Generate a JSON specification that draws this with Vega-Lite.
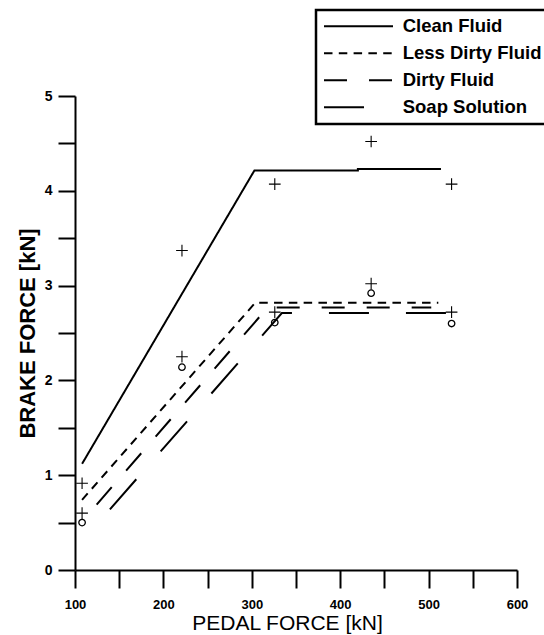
{
  "$schema": "https://vega.github.io/schema/vega-lite/v6.json",
  "width": 442,
  "height": 474,
  "autosize": {"type": "none"},
  "padding": {"left": 75, "top": 96, "right": 27, "bottom": 65},
  "background": "white",
  "config": {
    "view": {"stroke": null},
    "font": "Liberation Sans",
    "axis": {"grid": false, "domainColor": "black", "tickColor": "black", "labelColor": "black", "titleColor": "black", "domainWidth": 2, "tickWidth": 2, "labelFont": "Liberation Sans", "titleFont": "Liberation Sans", "labelOverlap": false, "labelFlush": false}
  },
  "datasets": {
    "lines": [
      {"series": "Clean Fluid", "pedal": 108, "brake": 1.12, "ord": 1},
      {"series": "Clean Fluid", "pedal": 303, "brake": 4.215, "ord": 2},
      {"series": "Clean Fluid", "pedal": 420, "brake": 4.215, "ord": 3},
      {"series": "Clean Fluid", "pedal": 420, "brake": 4.23, "ord": 4},
      {"series": "Clean Fluid", "pedal": 514, "brake": 4.23, "ord": 5},
      {"series": "Less Dirty Fluid", "pedal": 108, "brake": 0.74, "ord": 1},
      {"series": "Less Dirty Fluid", "pedal": 304, "brake": 2.82, "ord": 2},
      {"series": "Less Dirty Fluid", "pedal": 511, "brake": 2.82, "ord": 3},
      {"series": "Dirty Fluid", "pedal": 124.5, "brake": 0.69, "ord": 1},
      {"series": "Dirty Fluid", "pedal": 318, "brake": 2.77, "ord": 2},
      {"series": "Dirty Fluid", "pedal": 503, "brake": 2.77, "ord": 3},
      {"series": "Soap Solution", "pedal": 139.5, "brake": 0.64, "ord": 1},
      {"series": "Soap Solution", "pedal": 334, "brake": 2.71, "ord": 2},
      {"series": "Soap Solution", "pedal": 543, "brake": 2.71, "ord": 3}
    ],
    "plus": [
      {"pedal": 108, "brake": 0.915},
      {"pedal": 221, "brake": 3.37},
      {"pedal": 326, "brake": 4.07},
      {"pedal": 435, "brake": 4.52},
      {"pedal": 526, "brake": 4.07},
      {"pedal": 108, "brake": 0.6},
      {"pedal": 221, "brake": 2.25},
      {"pedal": 326, "brake": 2.72},
      {"pedal": 435, "brake": 3.02},
      {"pedal": 526, "brake": 2.72}
    ],
    "circles": [
      {"pedal": 108, "brake": 0.5},
      {"pedal": 221, "brake": 2.14},
      {"pedal": 326, "brake": 2.61},
      {"pedal": 435, "brake": 2.92},
      {"pedal": 526, "brake": 2.6}
    ]
  },
  "layer": [
    {
      "data": {"name": "lines"},
      "mark": {"type": "line", "color": "black", "strokeWidth": 2, "strokeCap": "butt"},
      "encoding": {
        "x": {"field": "pedal", "type": "quantitative", "scale": {"domain": [100, 600], "nice": false, "zero": false},
          "axis": {"orient": "bottom", "title": "PEDAL FORCE [kN]", "values": [100, 150, 200, 250, 300, 350, 400, 450, 500, 550, 600], "labelExpr": "datum.value % 100 === 0 ? format(datum.value, 'd') : ''", "tickSize": 18, "labelFontSize": 13, "labelFontWeight": "bold", "labelPadding": 10, "titleFontSize": 21, "titleFontWeight": "normal", "titlePadding": 1, "titleX": 212,
            "encode": {"ticks": {"update": {"y2": {"signal": "datum.value % 100 === 0 ? 18 : 9"}}}}}},
        "y": {"field": "brake", "type": "quantitative", "scale": {"domain": [0, 5], "nice": false},
          "axis": {"orient": "left", "title": "BRAKE FORCE [kN]", "values": [0, 0.5, 1, 1.5, 2, 2.5, 3, 3.5, 4, 4.5, 5], "labelExpr": "datum.value % 1 === 0 ? format(datum.value, 'd') : ''", "tickSize": 17, "labelFontSize": 14, "labelFontWeight": "bold", "labelPadding": 6, "titleFontSize": 22, "titleFontWeight": "bold", "titlePadding": 5,
            "encode": {"ticks": {"update": {"x2": {"signal": "datum.value % 1 === 0 ? -17 : -8"}}}}}},
        "strokeDash": {"field": "series", "type": "nominal",
          "scale": {"domain": ["Clean Fluid", "Less Dirty Fluid", "Dirty Fluid", "Soap Solution"], "range": [[1, 0], [8.5, 6.3], [23, 22], [40, 37]]},
          "legend": {"orient": "none", "legendX": 241, "legendY": -86, "title": null, "symbolType": "stroke", "symbolSize": 4761, "symbolStrokeWidth": 2, "symbolStrokeColor": "black", "labelFontSize": 18.5, "labelFontWeight": "bold", "labelFont": "Liberation Sans", "labelColor": "black", "labelOffset": 8.7, "rowPadding": 8, "clipHeight": 18.5, "padding": 7, "strokeColor": "black", "fillColor": "white",
            "encode": {"legend": {"update": {"strokeWidth": {"value": 2.5}}}}}},
        "order": {"field": "ord", "type": "quantitative"}
      }
    },
    {
      "data": {"name": "plus"},
      "mark": {"type": "point", "shape": "M-1,0L1,0M0,-1L0,1", "filled": false, "color": "black", "strokeWidth": 1.1, "size": 137, "opacity": 1},
      "encoding": {
        "x": {"field": "pedal", "type": "quantitative"},
        "y": {"field": "brake", "type": "quantitative"}
      }
    },
    {
      "data": {"name": "circles"},
      "mark": {"type": "point", "shape": "circle", "filled": false, "color": "black", "strokeWidth": 1.3, "size": 42, "opacity": 1},
      "encoding": {
        "x": {"field": "pedal", "type": "quantitative"},
        "y": {"field": "brake", "type": "quantitative"}
      }
    }
  ]
}
